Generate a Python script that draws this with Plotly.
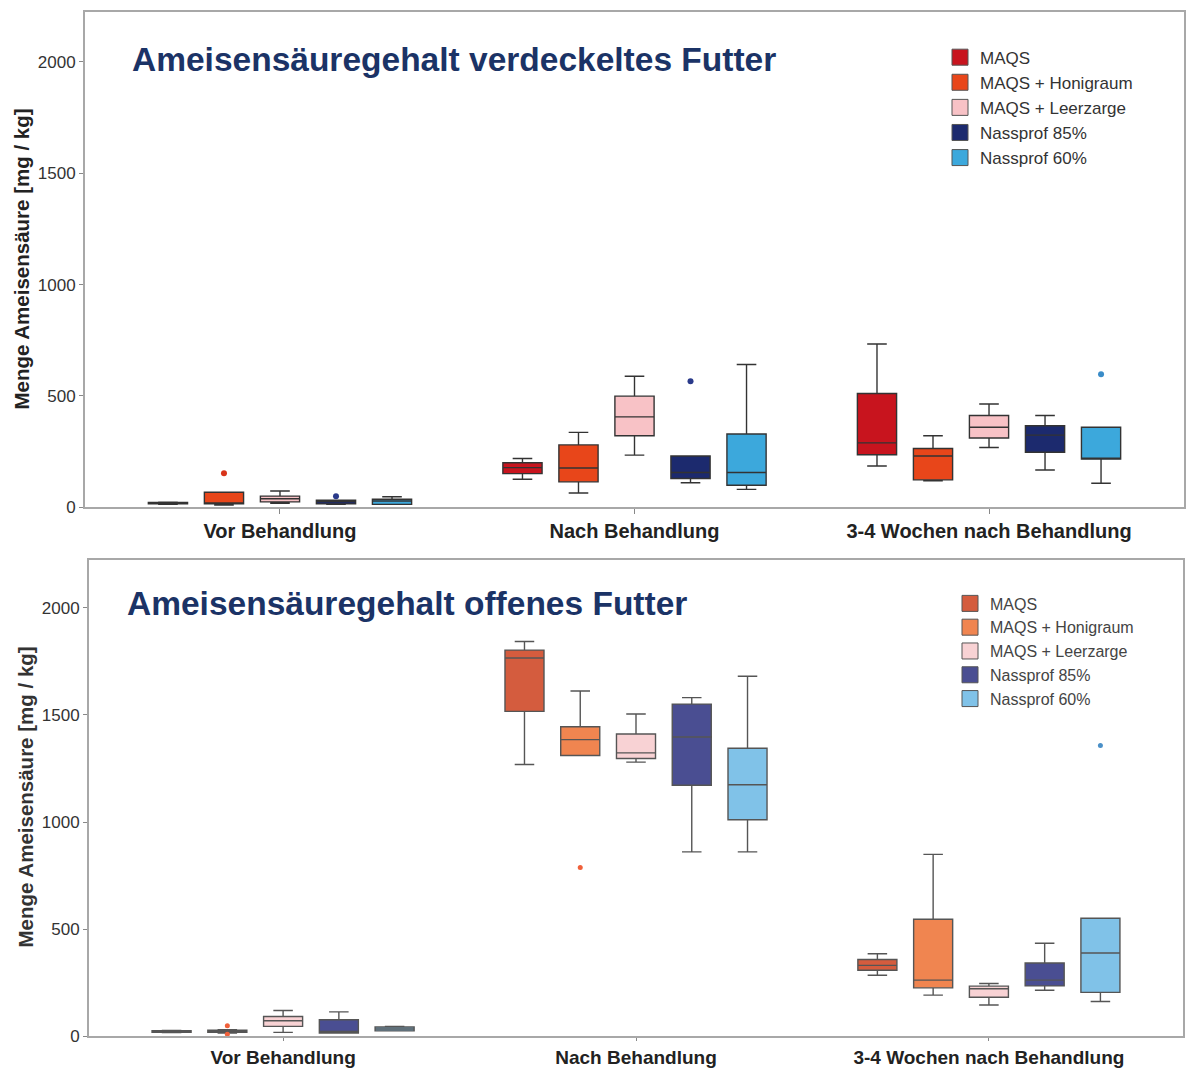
import plotly.graph_objects as go

categories = ["Vor Behandlung", "Nach Behandlung", "3-4 Wochen nach Behandlung"]
series = ["MAQS", "MAQS + Honigraum", "MAQS + Leerzarge", "Nassprof 85%", "Nassprof 60%"]

# ---- top panel: verdeckeltes Futter (values per series, per category) ----
top_colors = ["#C8141E", "#E8461A", "#F8C2C6", "#1C2A6E", "#3CA8DC"]
top_point_colors = ["#C8141E", "#D8341A", "#E8A0A8", "#2A3A8A", "#3A8CC8"]
top_lower = [[13, 126, 185], [10, 64, 119], [18, 234, 268], [13, 110, 167], [13, 80, 108]]
top_q1 = [[15, 151, 236], [15, 114, 123], [24, 321, 311], [15, 129, 247], [13, 99, 216]]
top_median = [[18, 178, 289], [18, 176, 230], [38, 406, 359], [25, 156, 324], [28, 156, 218]]
top_q3 = [[21, 200, 511], [67, 280, 264], [50, 499, 412], [31, 230, 366], [36, 329, 359]]
top_upper = [[23, 219, 733], [67, 336, 321], [73, 588, 464], [31, 230, 412], [47, 641, 359]]
top_outliers = [[[], [], []], [[153], [], []], [[], [], []], [[49], [566], []], [[], [], [597]]]

# ---- bottom panel: offenes Futter ----
bot_colors = ["#D45C3E", "#F08550", "#F8D2D4", "#4A4E92", "#80C2E8"]
bot_point_colors = ["#D45C3E", "#F0603A", "#E8A0A8", "#4A4E92", "#4A90C8"]
bot_lower = [[17, 1269, 285], [15, 1311, 192], [18, 1280, 146], [15, 861, 215], [25, 861, 162]]
bot_q1 = [[18, 1517, 308], [18, 1311, 226], [46, 1297, 182], [15, 1172, 235], [25, 1011, 205]]
bot_median = [[22, 1766, 331], [23, 1385, 262], [72, 1323, 222], [22, 1397, 262], [34, 1174, 389]]
bot_q3 = [[26, 1803, 358], [28, 1445, 546], [92, 1411, 234], [77, 1551, 342], [43, 1345, 551]]
bot_upper = [[27, 1843, 385], [30, 1612, 849], [120, 1505, 246], [114, 1581, 434], [46, 1681, 551]]
bot_outliers = [[[], [], []], [[49, 9], [788], []], [[], [], []], [[], [], []], [[], [], [1357]]]

title_top = "Ameisensäuregehalt verdeckeltes Futter"
title_bot = "Ameisensäuregehalt offenes Futter"
y_title = "Menge Ameisensäure [mg / kg]"
y_ticks = [0, 500, 1000, 1500, 2000]

FONT = "Liberation Sans, Arial, sans-serif"
W, H = 1192, 1072

fig = go.Figure()


def add_panel(tag, colors, pcolors, lo, q1, med, q3, up, outl, xa, ya, legend,
              linecolor, psize):
    for i, name in enumerate(series):
        # sample rows: the median (inside the fences, never drawn) plus the outliers,
        # so every row is non-empty; only values outside the fences are shown.
        samples = [[med[i][j]] + list(outl[i][j]) for j in range(len(categories))]
        fig.add_trace(go.Box(
            name=name,
            x=categories,
            q1=q1[i], median=med[i], q3=q3[i],
            lowerfence=lo[i], upperfence=up[i],
            y=samples,
            boxpoints="outliers", jitter=0, pointpos=0,
            fillcolor=colors[i],
            line=dict(color=linecolor, width=1.4),
            marker=dict(color=pcolors[i], size=psize),
            whiskerwidth=0.5,
            alignmentgroup=tag, offsetgroup=tag + str(i),
            xaxis=xa, yaxis=ya,
            showlegend=False,
        ))
    # legend entries (square swatches)
    for i, name in enumerate(series):
        fig.add_trace(go.Scatter(
            name=name, x=[None], y=[None], mode="markers",
            marker=dict(symbol="square", size=16, color=colors[i],
                        line=dict(color="#555555", width=1)),
            xaxis=xa, yaxis=ya, legend=legend, hoverinfo="skip",
        ))


add_panel("top", top_colors, top_point_colors, top_lower, top_q1, top_median, top_q3,
          top_upper, top_outliers, "x", "y", "legend", "#333333", 6)
add_panel("bot", bot_colors, bot_point_colors, bot_lower, bot_q1, bot_median, bot_q3,
          bot_upper, bot_outliers, "x2", "y2", "legend2", "#555555", 5)

axis_common = dict(showline=True, mirror=True, linecolor="#A8A8A8", linewidth=2,
                   showgrid=False, zeroline=False, ticks="outside", ticklen=5,
                   tickcolor="#888888")

xa_common = dict(axis_common, type="category", range=[-0.55, 2.55],
                 tickfont=dict(family=FONT, size=20, color="#222222", weight="bold"))
ya_common = dict(axis_common, range=[0, 2225], tickvals=y_ticks, ticklen=4,
                 tickfont=dict(family=FONT, size=17, color="#333333"))

fig.update_layout(
    width=W, height=H,
    margin=dict(l=0, r=0, t=0, b=0),
    paper_bgcolor="white", plot_bgcolor="white",
    boxmode="group", boxgap=0.21, boxgroupgap=0.3,
    xaxis=dict(xa_common, domain=[85 / W, 1184 / W], anchor="y"),
    yaxis=dict(ya_common, domain=[(H - 512) / H, (H - 12) / H], anchor="x"),
    xaxis2=dict(xa_common, domain=[89 / W, 1183 / W], anchor="y2", ticklen=3,
                tickfont=dict(family=FONT, size=19, color="#222222", weight="bold")),
    yaxis2=dict(ya_common, domain=[(H - 1046) / H, (H - 565) / H], anchor="x2"),
    legend=dict(x=940 / W, y=(H - 40) / H, xanchor="left", yanchor="top",
                font=dict(family=FONT, size=17, color="#333333"),
                bgcolor="rgba(0,0,0,0)", tracegroupgap=0, itemwidth=30),
    legend2=dict(x=950 / W, y=(H - 592) / H, xanchor="left", yanchor="top",
                 font=dict(family=FONT, size=16, color="#444444"),
                 bgcolor="rgba(0,0,0,0)", tracegroupgap=0, itemwidth=30),
    annotations=[
        dict(text=title_top, x=130 / W, y=(H - 60) / H, xref="paper", yref="paper",
             xanchor="left", yanchor="middle", showarrow=False,
             font=dict(family=FONT, size=33.5, color="#1B3366", weight="bold")),
        dict(text=title_bot, x=125 / W, y=(H - 609) / H, xref="paper", yref="paper",
             xanchor="left", yanchor="middle", showarrow=False,
             font=dict(family=FONT, size=33.5, color="#1B3366", weight="bold")),
        dict(text=y_title, x=22 / W, y=(H - 262) / H, xref="paper", yref="paper",
             xanchor="center", yanchor="middle", textangle=-90, showarrow=False,
             font=dict(family=FONT, size=20.5, color="#222222", weight="bold")),
        dict(text=y_title, x=25 / W, y=(H - 805) / H, xref="paper", yref="paper",
             xanchor="center", yanchor="middle", textangle=-90, showarrow=False,
             font=dict(family=FONT, size=20.5, color="#333333", weight="bold")),
    ],
)

page_css = ("document.documentElement.style.margin='0';"
            "document.documentElement.style.overflow='hidden';"
            "document.body.style.margin='0';"
            "document.body.style.overflow='hidden';"
            "document.body.style.height='1072px';")

fig.write_html("out.html", config={"displayModeBar": False}, post_script=page_css)
